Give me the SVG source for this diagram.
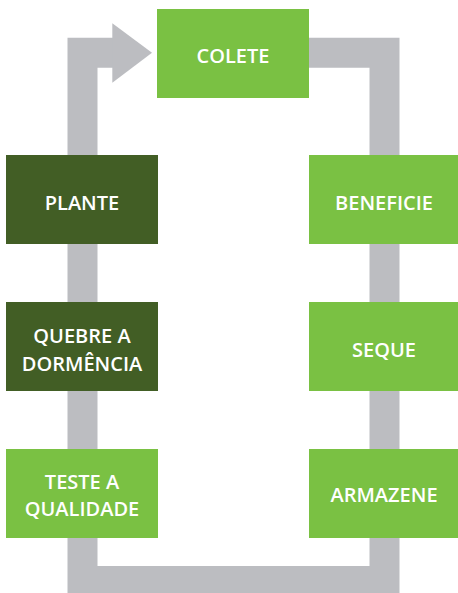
<svg xmlns="http://www.w3.org/2000/svg" width="458" height="593" viewBox="0 0 458 593">
<style>
.light{fill:#7AC143}
.dark{fill:#425E25}
.t{fill:#FFFFFF;font-family:"Open Sans","Noto Sans","Liberation Sans",sans-serif;font-size:20px;font-weight:600;text-anchor:middle}
.conn{fill:none;stroke:#BCBDC1;stroke-width:30;stroke-linejoin:miter}
</style>
<rect width="458" height="593" fill="#FFFFFF"/>
<g id="connectors">
<path class="conn" d="M 300 52.7 H 384.5 V 581 H 82.5 V 52.7 H 114"/>
<polygon points="112.3,23.3 152,52.7 112.3,82.7" fill="#BCBDC1"/>
</g>
<g id="colete"><rect class="light" x="157" y="9" width="152" height="89"/><text class="t" x="233" y="63">COLETE</text></g>
<g id="beneficie"><rect class="light" x="309" y="155" width="149" height="89"/><text class="t" x="384" y="210">BENEFICIE</text></g>
<g id="seque"><rect class="light" x="309" y="302" width="149" height="89"/><text class="t" x="384" y="357">SEQUE</text></g>
<g id="armazene"><rect class="light" x="309" y="449" width="149" height="89"/><text class="t" x="384" y="502">ARMAZENE</text></g>
<g id="plante"><rect class="dark" x="6" y="155" width="152" height="89"/><text class="t" x="82" y="210">PLANTE</text></g>
<g id="quebre"><rect class="dark" x="6" y="302" width="152" height="89"/><text class="t" x="82" y="343">QUEBRE A</text><text class="t" x="82" y="371">DORMÊNCIA</text></g>
<g id="teste"><rect class="light" x="6" y="449" width="152" height="89"/><text class="t" x="82" y="489">TESTE A</text><text class="t" x="82" y="516">QUALIDADE</text></g>
</svg>
